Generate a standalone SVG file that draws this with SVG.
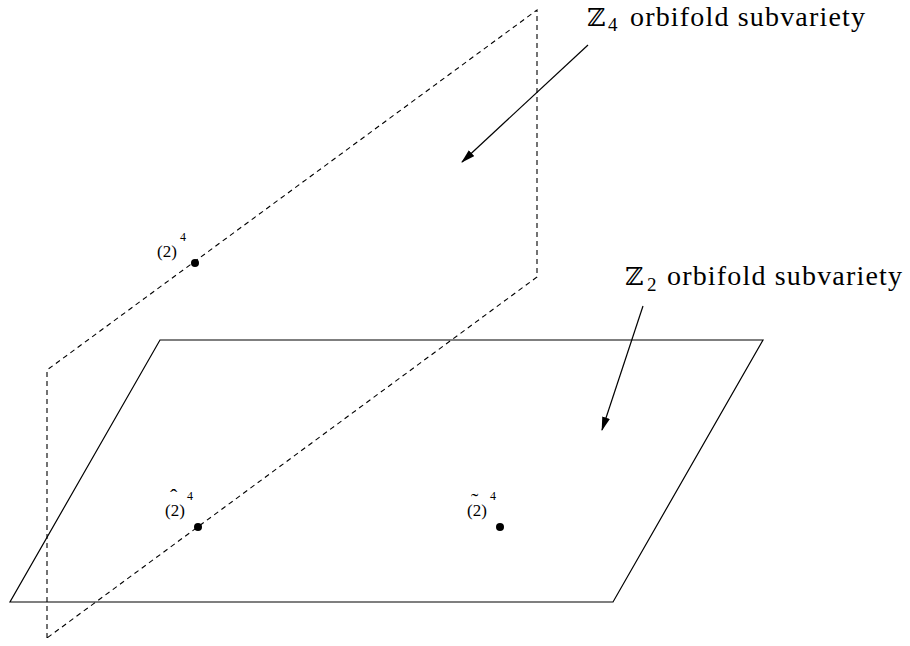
<svg xmlns="http://www.w3.org/2000/svg" width="910" height="646" viewBox="0 0 910 646">
<style>
.dash{fill:none;stroke:#000;stroke-width:1.1;stroke-dasharray:5,4}
.solid{fill:none;stroke:#000;stroke-width:1.2}
.lbl{font-family:"Liberation Serif","DejaVu Serif",serif;font-size:28px;fill:#000}
.bb{font-family:"DejaVu Serif","DejaVu Sans",serif;font-size:25px;fill:#000}
.sub{font-family:"Liberation Serif",serif;font-size:19px;fill:#000}
.pt{font-family:"Liberation Serif","DejaVu Serif",serif;font-size:17px;fill:#000}
.acc{font-size:22px}
.sup{font-size:12px}
</style>
<defs>
<marker id="ah" markerWidth="14" markerHeight="8" refX="13" refY="4" orient="auto" markerUnits="userSpaceOnUse">
<path d="M0,0 L14,4 L0,8 Z" fill="#000"/>
</marker>
</defs>
<g id="plane-z4">
<polyline class="dash" points="47,638 47,370 537,10 537,277 47,638"/>
</g>
<g id="plane-z2">
<polygon class="solid" points="160,340 763,340 613,602 10,602"/>
</g>
<g id="connectors">
<line x1="588" y1="45" x2="462" y2="162" stroke="#000" stroke-width="1.2" marker-end="url(#ah)"/>
<line x1="643" y1="306" x2="602" y2="430" stroke="#000" stroke-width="1.2" marker-end="url(#ah)"/>
</g>
<g id="label-z4">
<text class="bb" x="587" y="26">ℤ</text>
<text class="sub" x="608" y="31">4</text>
<text class="lbl" x="630" y="26" textLength="235" lengthAdjust="spacing">orbifold subvariety</text>
</g>
<g id="label-z2">
<text class="bb" x="625" y="285">ℤ</text>
<text class="sub" x="647" y="291">2</text>
<text class="lbl" x="667" y="285" textLength="235" lengthAdjust="spacing">orbifold subvariety</text>
</g>
<g id="point-2">
<circle cx="195" cy="263" r="4" fill="#000"/>
<text class="pt" x="157" y="257">(2)<tspan class="sup" x="180" y="241">4</tspan></text>
</g>
<g id="point-2hat">
<circle cx="198" cy="527" r="4" fill="#000"/>
<text class="pt" x="165" y="516">(2)<tspan class="acc" x="170" y="504">ˆ</tspan><tspan class="sup" x="187" y="500">4</tspan></text>
</g>
<g id="point-2tilde">
<circle cx="500" cy="527" r="4" fill="#000"/>
<text class="pt" x="467" y="516">(2)<tspan class="acc" x="471" y="508">˜</tspan><tspan class="sup" x="490" y="500">4</tspan></text>
</g>
</svg>
